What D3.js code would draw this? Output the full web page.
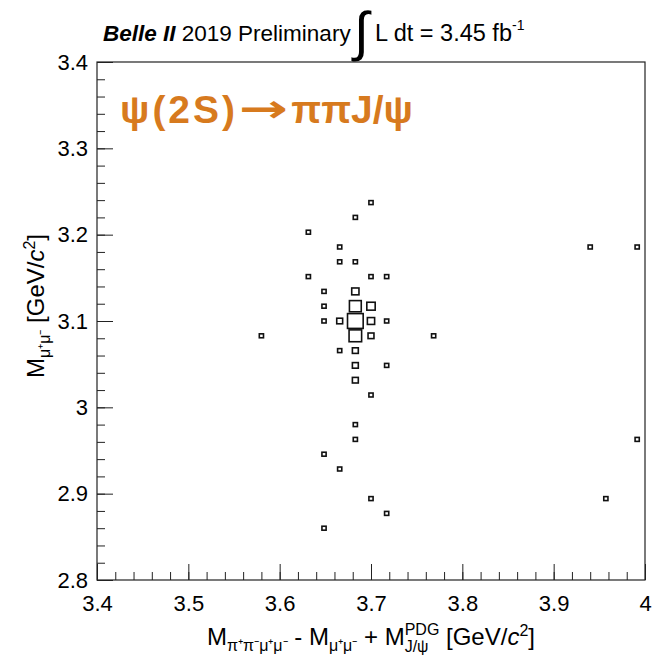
<!DOCTYPE html>
<html><head><meta charset="utf-8">
<script src="https://cdn.jsdelivr.net/npm/d3@7"></script>
<style>body{margin:0;background:#fff}svg{display:block}</style>
</head><body>
<script>
// ---- data ----
const xDomain = [3.4, 4.0];
const yDomain = [2.8, 3.4];
const nBinsX = 35;
const nBinsY = 35;
const xTickValues = [3.4, 3.5, 3.6, 3.7, 3.8, 3.9, 4.0];
const xTickLabels = ["3.4", "3.5", "3.6", "3.7", "3.8", "3.9", "4"];
const yTickValues = [2.8, 2.9, 3.0, 3.1, 3.2, 3.3, 3.4];
const yTickLabels = ["2.8", "2.9", "3", "3.1", "3.2", "3.3", "3.4"];
// filled cells of the 2D histogram: x-bin index, y-bin index, entries
const binIx =     [17,16,13,15,15,16,13,17,18,14,16,14,16,17,14,15,16,17,18,10,16,17,21,15,16,16,18,16,17,16,16,14,15,17,18,14,31,34,34,32];
const binIy =     [25,24,23,22,21,21,20,20,20,19,19,18,18,18,17,17,17,17,17,16,16,16,16,15,15,14,14,13,12,10, 9, 8, 7, 5, 4, 3,22,22, 9, 5];
const binCounts = [ 1, 1, 1, 1, 1, 1, 1, 1, 1, 1, 3, 1, 8, 4, 1, 2,14, 3, 1, 1, 9, 2, 1, 1, 2, 2, 1, 2, 1, 1, 1, 1, 1, 1, 1, 1, 1, 1, 1, 1];

// ---- layout ----
const W = 661, H = 659;
const frame = {l: 97, r: 645, t: 62, b: 580};
const FONT = "'Liberation Sans', Arial, Helvetica, sans-serif";

const svg = d3.select("body").append("svg")
  .attr("width", W).attr("height", H)
  .style("font-family", FONT);

const x = d3.scaleLinear().domain(xDomain).range([frame.l, frame.r]);
const y = d3.scaleLinear().domain(yDomain).range([frame.b, frame.t]);
const bwX = (xDomain[1] - xDomain[0]) / nBinsX;
const bwY = (yDomain[1] - yDomain[0]) / nBinsY;
const zmax = d3.max(binCounts);

// ---- boxes ----
const cells = binCounts.map((n, k) => ({ix: binIx[k], iy: binIy[k], n}));
svg.append("g").selectAll("rect").data(cells).join("rect")
  .each(function(d) {
    const r = Math.sqrt(d.n / zmax);
    const x0 = x(xDomain[0] + d.ix * bwX), x1 = x(xDomain[0] + (d.ix + 1) * bwX);
    const y0 = y(yDomain[0] + (d.iy + 1) * bwY), y1 = y(yDomain[0] + d.iy * bwY);
    const cx = (x0 + x1) / 2, cy = (y0 + y1) / 2;
    const w = (x1 - x0) * r, h = (y1 - y0) * r;
    d3.select(this).attr("x", cx - w / 2).attr("y", cy - h / 2)
      .attr("width", w).attr("height", h);
  })
  .attr("fill", "none").attr("stroke", "#111").attr("stroke-width", 1.6);

// ---- axes ----
const minorX = d3.range(0, 31).map(i => +(xDomain[0] + i * 0.02).toFixed(3));
const minorY = d3.range(0, 31).map(i => +(yDomain[0] + i * 0.02).toFixed(3));

function styleAxis(g) {
  g.select(".domain").remove();
  g.selectAll("line").attr("stroke", "#222").attr("stroke-width", 1);
  g.selectAll("text").attr("font-family", FONT).attr("font-size", 22).attr("fill", "#000");
}

svg.append("g").attr("transform", `translate(0,${frame.b})`)
  .call(d3.axisBottom(x).tickValues(minorX).tickSize(-8).tickFormat(""))
  .call(styleAxis);
svg.append("g").attr("transform", `translate(0,${frame.b})`)
  .call(d3.axisBottom(x).tickValues(xTickValues).tickSize(-16).tickPadding(15)
    .tickFormat((d, i) => xTickLabels[i]))
  .call(styleAxis);

svg.append("g").attr("transform", `translate(${frame.l},0)`)
  .call(d3.axisLeft(y).tickValues(minorY).tickSize(-8).tickFormat(""))
  .call(styleAxis);
svg.append("g").attr("transform", `translate(${frame.l},0)`)
  .call(d3.axisLeft(y).tickValues(yTickValues).tickSize(-16).tickPadding(9)
    .tickFormat((d, i) => yTickLabels[i]))
  .call(styleAxis);

// frame
svg.append("rect").attr("x", frame.l).attr("y", frame.t)
  .attr("width", frame.r - frame.l).attr("height", frame.b - frame.t)
  .attr("fill", "none").attr("stroke", "#222").attr("stroke-width", 1.2);

// ---- header ----
const headA = svg.append("text").attr("x", 103).attr("y", 41).attr("font-size", 22.5).attr("fill", "#000");
headA.append("tspan").attr("font-weight", "bold").attr("font-style", "italic").text("Belle II");
headA.append("tspan").text(" 2019 Preliminary");
svg.append("text").attr("x", 354).attr("y", 50).attr("font-size", 54)
  .attr("font-family", FONT).attr("fill", "#000").text("\u222B");
const headB = svg.append("text").attr("x", 375).attr("y", 41).attr("font-size", 23.5).attr("fill", "#000");
headB.append("tspan").text("L dt = 3.45 fb");
headB.append("tspan").attr("font-size", 14).attr("dy", -11).text("-1");

// ---- process label ----
const labFont = 39;
const labColor = "#d77a1e";
const lab1 = svg.append("text").attr("x", 120).attr("y", 123)
  .attr("font-size", labFont).attr("font-weight", "bold").attr("fill", labColor)
  .attr("letter-spacing", 3)
  .text("\u03C8(2S)");
const lab2 = svg.append("text").attr("x", 413).attr("y", 123).attr("text-anchor", "end")
  .attr("font-size", labFont).attr("font-weight", "bold").attr("fill", labColor)
  .text("\u03C0\u03C0J/\u03C8");
{
  const e1 = 120 + lab1.node().getComputedTextLength();
  const s2 = 413 - lab2.node().getComputedTextLength();
  const arrow = svg.append("text").attr("font-size", labFont).attr("font-weight", "bold")
    .attr("font-family", "'DejaVu Sans', sans-serif").attr("fill", labColor).text("\u2192");
  const aw = arrow.node().getComputedTextLength();
  const gap = (s2 - e1) - 4;
  const sx = gap / aw;
  arrow.attr("transform", `translate(${e1 + 1},${123 - 1}) scale(${sx},1)`);
}

// ---- axis titles ----
const TF = 24, SF = 16;
const xt = svg.append("text").attr("x", (frame.l + frame.r) / 2).attr("y", 645)
  .attr("text-anchor", "middle").attr("font-size", TF).attr("fill", "#000");
xt.append("tspan").text("M");
xt.append("tspan").attr("font-size", SF).attr("dy", 6).text("\u03C0\u207A\u03C0\u207B\u03BC\u207A\u03BC\u207B");
xt.append("tspan").attr("dy", -6).text(" - M");
xt.append("tspan").attr("font-size", SF).attr("dy", 6).text("\u03BC\u207A\u03BC\u207B");
xt.append("tspan").attr("dy", -6).text(" + M");
const sup = xt.append("tspan").attr("font-size", SF).attr("dy", -10).text("PDG");
const sub = xt.append("tspan").attr("font-size", SF).attr("dy", 17).text("J/\u03C8");
const rest = xt.append("tspan").attr("dy", -7).text(" [GeV/");
xt.append("tspan").attr("font-style", "italic").text("c");
xt.append("tspan").attr("font-size", SF).attr("dy", -9).text("2");
xt.append("tspan").attr("dy", 9).text("]");
{
  const w1 = sup.node().getComputedTextLength();
  const w2 = sub.node().getComputedTextLength();
  sub.attr("dx", -w1);
  rest.attr("dx", Math.max(0, w1 - w2));
}

const yt = svg.append("text").attr("transform", "translate(44,306) rotate(-90)")
  .attr("text-anchor", "middle").attr("font-size", TF).attr("fill", "#000");
yt.append("tspan").text("M");
yt.append("tspan").attr("font-size", SF).attr("dy", 6).text("\u03BC\u207A\u03BC\u207B");
yt.append("tspan").attr("dy", -6).text(" [GeV/");
yt.append("tspan").attr("font-style", "italic").text("c");
yt.append("tspan").attr("font-size", SF).attr("dy", -9).text("2");
yt.append("tspan").attr("dy", 9).text("]");
</script>
</body></html>
